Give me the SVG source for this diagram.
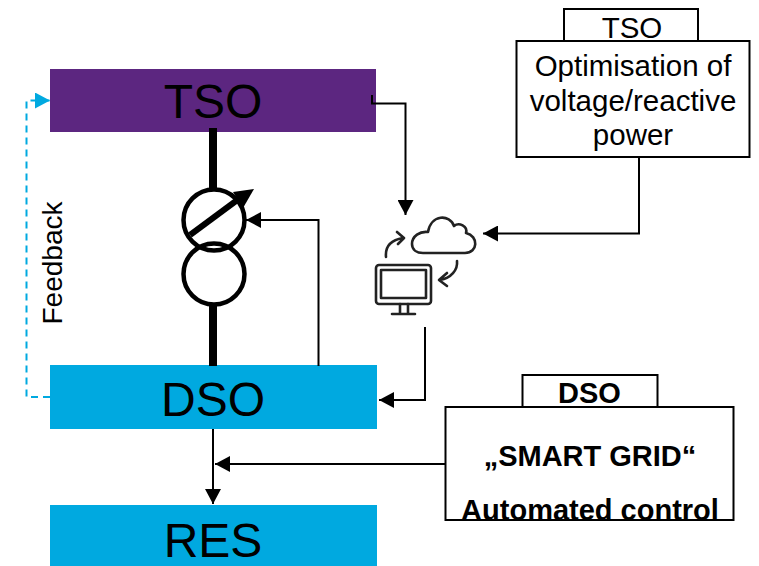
<svg xmlns="http://www.w3.org/2000/svg" width="759" height="566" viewBox="0 0 759 566">
<style>
text{font-family:"Liberation Sans",Arial,sans-serif;fill:#000;text-anchor:middle}
.big{font-size:48px}
.mid{font-size:29.500px}
.bold{font-size:29px;font-weight:bold}
.box{fill:#fff;stroke:#000;stroke-width:2}
.conn{fill:none;stroke:#000;stroke-width:2}
.icon{fill:none;stroke:#222;stroke-width:2.600;stroke-linecap:round;stroke-linejoin:round}
</style>
<defs>
<marker id="a" markerUnits="userSpaceOnUse" markerWidth="17" markerHeight="16" refX="15" refY="8" orient="auto"><path d="M0 0L15 8L0 16Z" fill="#000"/></marker>
<marker id="b" markerUnits="userSpaceOnUse" markerWidth="17" markerHeight="16" refX="15" refY="8" orient="auto"><path d="M0 0L15 8L0 16Z" fill="#00a9e0"/></marker>
</defs>
<rect width="759" height="566" fill="#fff"/>
<g id="node-tso"><rect x="50" y="69" width="326" height="63" fill="#5c2680"/><text class="big" x="213" y="118">TSO</text></g>
<g id="node-dso"><rect x="50" y="365" width="327" height="64" fill="#00a9e0"/><text class="big" x="213" y="416">DSO</text></g>
<g id="node-res"><rect x="50" y="505" width="327" height="61" fill="#00a9e0"/><text class="big" x="213" y="557">RES</text></g>
<g id="connectors">
<path class="conn" d="M372 95V103.500H405.500V215" marker-end="url(#a)"/>
<path class="conn" d="M639 157V233.500H483" marker-end="url(#a)"/>
<path class="conn" d="M425 327V400H379" marker-end="url(#a)"/>
<path class="conn" d="M318.500 366V220H246" marker-end="url(#a)"/>
<path class="conn" d="M446 464H215" marker-end="url(#a)"/>
<path class="conn" d="M213 429V504" marker-end="url(#a)"/>
<path d="M50 397H26.500V100.500H50" fill="none" stroke="#00a9e0" stroke-width="2" stroke-dasharray="7 5" marker-end="url(#b)"/>
</g>
<g id="transformer">
<path d="M213 128V190M213 306V366" stroke="#000" stroke-width="8" fill="none"/>
<circle cx="214" cy="220" r="30.500" fill="none" stroke="#000" stroke-width="4.500"/>
<circle cx="214" cy="274" r="30.500" fill="none" stroke="#000" stroke-width="4.500"/>
<path d="M190 235L240 198" stroke="#000" stroke-width="6" fill="none"/>
<path d="M233 192L254 189L243 208Z" fill="#000"/>
</g>
<g id="cloud-computer">
<path class="icon" d="M423 253H465C478 253 479 236 466 233C468 226 459 222 454 226C450 214 431 214 428 232C420 231 412 236 412 244C412 250 417 253 423 253Z"/>
<path class="icon" d="M386 257C385 246 391 240 403 238M397 232L404 238L398 244"/>
<path class="icon" d="M457 261C458 270 451 278 440 280M447 273L439 280L447 286"/>
<rect class="icon" x="376" y="265" width="55" height="39" rx="3"/>
<rect class="icon" x="381" y="270" width="45" height="28"/>
<path class="icon" d="M400 304V313M408 304V313M392 314H415"/>
</g>
<g id="label-feedback"><text x="62" y="263" font-size="28" transform="rotate(-90 62 263)">Feedback</text></g>
<g id="node-tso-box">
<rect class="box" x="564" y="9" width="134" height="32"/>
<rect class="box" x="516.500" y="41" width="233" height="116"/>
<text class="mid" x="632" y="38">TSO</text>
<text class="mid" x="633" y="76">Optimisation of</text>
<text class="mid" x="633" y="111">voltage/reactive</text>
<text class="mid" x="633" y="145">power</text>
</g>
<g id="node-dso-box">
<rect class="box" x="522.500" y="375" width="135" height="32"/>
<rect class="box" x="445.500" y="407" width="288" height="113"/>
<text class="bold" x="589.500" y="403">DSO</text>
<text class="bold" x="590" y="466">„SMART GRID“</text>
<text class="bold" x="590" y="520">Automated control</text>
</g>
</svg>
